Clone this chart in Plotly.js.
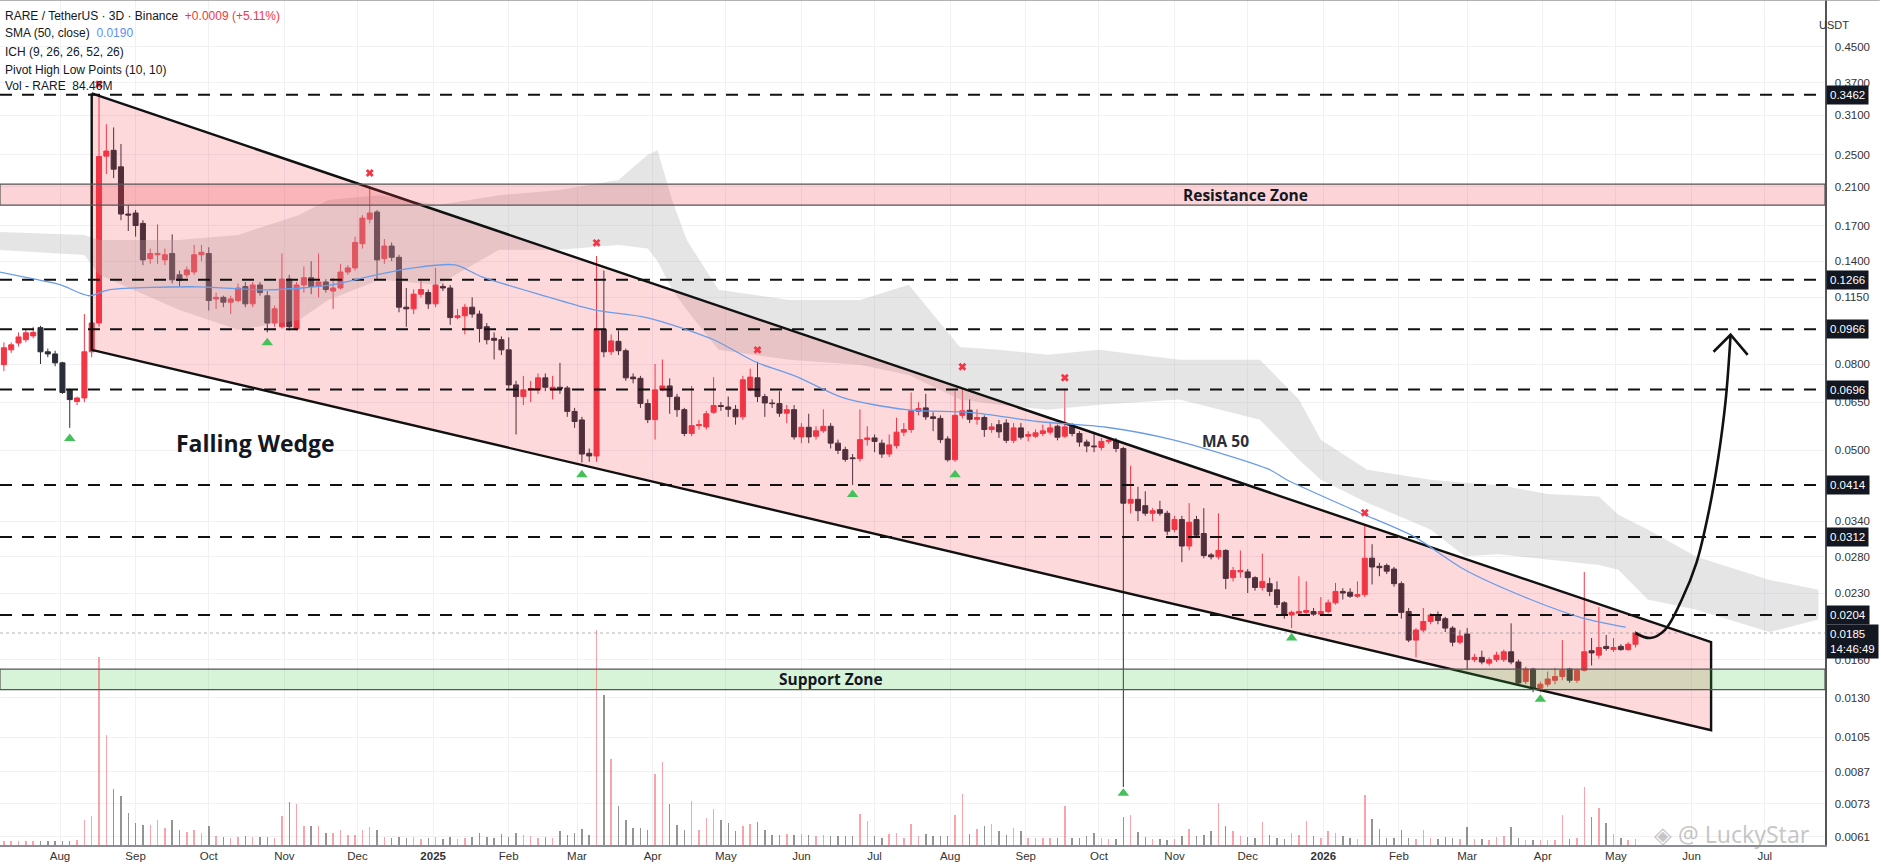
<!DOCTYPE html>
<html>
<head>
<meta charset="utf-8">
<script src="https://cdn.plot.ly/plotly-3.0.1.min.js"></script>
<style>html,body{margin:0;padding:0;background:#fff;}#chart{width:1881px;height:865px;}</style>
</head>
<body>
<div id="chart"></div>
<script>
// ---------- DATA ----------
const firstCandle = '2024-07-09';
const stepDays = 3;

const openP = [.0797,.0864,.0897,.0913,.0932,.0975,.0855,.0845,.0805,.0695,.0652,.0665,.0855,.1000,.2480,.2560,.2340,.1810,.1820,.1720,
.1420,.1450,.1410,.1460,.1300,.1300,.1320,.1450,.1460,.1140,.1150,.1120,.1130,.1220,.1110,.1230,.1160,.1000,.0980,.1270,
.0970,.1230,.1280,.1220,.1250,.1190,.1210,.1320,.1350,.1540,.1760,.1830,.1420,.1520,.1430,.1090,.1080,.1170,.1180,.1110,
.1220,.1210,.1030,.1040,.1090,.1050,.0980,.0920,.0913,.0864,.0714,.0670,.0695,.0695,.0742,.0695,.0705,.0702,.0618,.0590,
.0492,.0485,.0966,.0855,.0905,.0860,.0745,.0740,.0645,.0591,.0695,.0710,.0668,.0624,.0548,.0572,.0568,.0615,.0638,.0633,
.0625,.0600,.0695,.0742,.0670,.0647,.0645,.0612,.0624,.0538,.0567,.0540,.0556,.0570,.0520,.0502,.0480,.0478,.0530,.0535,
.0520,.0490,.0513,.0552,.0560,.0618,.0630,.0600,.0595,.0532,.0475,.0605,.0622,.0592,.0598,.0560,.0575,.0580,.0528,.0565,
.0540,.0540,.0548,.0552,.0570,.0540,.0570,.0548,.0523,.0512,.0508,.0525,.0528,.0505,.0375,.0383,.0370,.0355,.0362,.0355,
.0325,.0343,.0297,.0343,.0318,.0283,.0280,.0290,.0250,.0258,.0258,.0250,.0237,.0242,.0234,.0218,.0204,.0206,.0207,.0208,
.0205,.0208,.0218,.0232,.0231,.0226,.0228,.0278,.0266,.0267,.0262,.0242,.0208,.0178,.0188,.0197,.0204,.0200,.0190,.0176,
.0184,.0160,.0162,.0157,.0160,.0160,.0167,.0158,.0142,.0152,.0137,.0140,.0143,.0146,.0152,.0143,.0151,.0168,.0164,.0172,
.0169,.0172,.0169,.0174];
const highP = [.0900,.0900,.0950,.0970,.0980,.0985,.0870,.0860,.0810,.0700,.0670,.1050,.1050,.3480,.2950,.2900,.2650,.1900,.1850,.1750,
.1500,.1710,.1500,.1620,.1330,.1360,.1530,.1530,.1510,.1180,.1160,.1160,.1240,.1250,.1250,.1250,.1190,.1100,.1460,.1300,
.1250,.1360,.1400,.1460,.1270,.1280,.1380,.1370,.1600,.1800,.2100,.1850,.1580,.1550,.1450,.1210,.1200,.1260,.1200,.1350,
.1240,.1230,.1080,.1110,.1150,.1070,.1000,.0950,.0930,.0925,.0730,.0750,.0730,.0760,.0760,.0750,.0805,.0710,.0630,.0600,
.0505,.1440,.1330,.0940,.0960,.0870,.0760,.0750,.0660,.0800,.0820,.0740,.0680,.0630,.0710,.0590,.0620,.0745,.0650,.0670,
.0640,.0750,.0780,.0810,.0680,.0660,.0690,.0640,.0640,.0580,.0610,.0570,.0625,.0580,.0530,.0510,.0490,.0625,.0570,.0545,
.0530,.0545,.0597,.0580,.0685,.0650,.0680,.0615,.0605,.0540,.0690,.0700,.0660,.0625,.0605,.0580,.0590,.0592,.0580,.0580,
.0555,.0560,.0575,.0580,.0575,.0700,.0580,.0555,.0530,.0553,.0535,.0535,.0535,.0510,.0460,.0410,.0400,.0365,.0380,.0360,
.0350,.0350,.0375,.0350,.0365,.0286,.0355,.0292,.0265,.0290,.0262,.0252,.0285,.0250,.0245,.0220,.0209,.0252,.0245,.0212,
.0225,.0222,.0243,.0236,.0236,.0245,.0335,.0300,.0271,.0270,.0265,.0245,.0212,.0190,.0212,.0206,.0208,.0202,.0192,.0188,
.0190,.0165,.0168,.0162,.0167,.0169,.0195,.0160,.0154,.0153,.0142,.0150,.0153,.0178,.0153,.0152,.0258,.0180,.0213,.0183,
.0180,.0174,.0176,.0187];
const lowP = [.0770,.0850,.0880,.0900,.0920,.0800,.0830,.0790,.0680,.0565,.0640,.0650,.0830,.0980,.2250,.2200,.1750,.1650,.1600,.1370,
.1380,.1380,.1370,.1240,.1220,.1280,.1300,.1400,.1070,.1080,.1090,.1050,.1120,.1090,.1090,.1160,.0950,.0980,.0970,.0960,
.0960,.1180,.1170,.1150,.1180,.1080,.1200,.1300,.1330,.1500,.1720,.1270,.1380,.1400,.1060,.0980,.1050,.1150,.1080,.1090,
.1190,.0990,.1020,.0940,.1030,.0900,.0890,.0820,.0840,.0700,.0545,.0640,.0650,.0680,.0690,.0660,.0680,.0600,.0565,.0468,
.0470,.0470,.0830,.0840,.0840,.0730,.0720,.0630,.0580,.0530,.0690,.0610,.0600,.0540,.0540,.0560,.0560,.0610,.0620,.0600,
.0575,.0590,.0690,.0650,.0600,.0630,.0600,.0580,.0530,.0520,.0520,.0530,.0550,.0505,.0490,.0470,.0414,.0470,.0513,.0495,
.0480,.0482,.0505,.0540,.0550,.0605,.0590,.0555,.0520,.0470,.0470,.0595,.0580,.0575,.0538,.0550,.0535,.0520,.0520,.0530,
.0525,.0535,.0540,.0545,.0528,.0535,.0540,.0510,.0495,.0495,.0500,.0518,.0495,.0080,.0355,.0340,.0350,.0340,.0350,.0315,
.0320,.0272,.0290,.0310,.0278,.0276,.0276,.0235,.0245,.0250,.0230,.0233,.0233,.0226,.0212,.0200,.0190,.0204,.0204,.0203,
.0204,.0206,.0216,.0222,.0224,.0224,.0225,.0241,.0252,.0255,.0238,.0200,.0176,.0162,.0186,.0194,.0194,.0186,.0172,.0174,
.0152,.0158,.0156,.0155,.0158,.0158,.0156,.0140,.0140,.0134,.0134,.0138,.0140,.0143,.0141,.0141,.0150,.0155,.0161,.0168,
.0167,.0168,.0168,.0171];
const closeP = [.0874,.0888,.0927,.0948,.0950,.0855,.0845,.0805,.0685,.0659,.0665,.0855,.1000,.2475,.2550,.2310,.1810,.1800,.1700,.1410,
.1460,.1460,.1450,.1265,.1260,.1335,.1450,.1470,.1130,.1150,.1120,.1140,.1210,.1110,.1230,.1180,.1000,.1080,.1270,.0980,
.1230,.1280,.1220,.1250,.1200,.1210,.1320,.1350,.1550,.1770,.1820,.1410,.1520,.1430,.1090,.1080,.1170,.1200,.1110,.1230,
.1210,.1030,.1040,.1090,.1050,.0970,.0913,.0910,.0864,.0714,.0670,.0695,.0700,.0742,.0705,.0705,.0700,.0618,.0585,.0490,
.0485,.0966,.0855,.0907,.0860,.0742,.0738,.0645,.0591,.0695,.0710,.0670,.0624,.0548,.0572,.0575,.0610,.0638,.0635,.0625,
.0600,.0734,.0745,.0670,.0647,.0645,.0612,.0624,.0538,.0567,.0538,.0556,.0570,.0520,.0500,.0476,.0478,.0530,.0535,.0525,
.0490,.0515,.0552,.0560,.0620,.0628,.0600,.0595,.0530,.0475,.0605,.0620,.0592,.0598,.0560,.0568,.0553,.0528,.0565,.0537,
.0545,.0550,.0556,.0565,.0537,.0568,.0548,.0523,.0512,.0510,.0525,.0528,.0505,.0375,.0383,.0360,.0355,.0360,.0355,.0322,
.0343,.0297,.0338,.0315,.0282,.0280,.0290,.0249,.0260,.0260,.0250,.0237,.0245,.0232,.0216,.0204,.0207,.0208,.0209,.0205,
.0208,.0218,.0232,.0230,.0226,.0228,.0278,.0265,.0264,.0259,.0242,.0207,.0178,.0188,.0197,.0204,.0198,.0190,.0176,.0182,
.0160,.0162,.0158,.0160,.0164,.0167,.0158,.0141,.0152,.0137,.0140,.0144,.0146,.0151,.0143,.0151,.0167,.0166,.0171,.0170,
.0171,.0169,.0174,.0185];
// volume, millions of RARE
const volM = [56,56,56,56,56,56,56,56,56,56,70,
350,406,2632,1540,784,686,448,308,280,280,350,238,350,210,182,210,168,266,126,
112,98,112,126,112,112,112,98,
406,602,574,266,266,266,168,168,210,140,140,210,252,210,
112,98,112,98,112,84,98,112,84,112,84,98,112,
168,112,98,154,112,168,140,126,98,112,98,196,140,168,224,140,
3010,2100,1204,546,350,238,238,210,994,1162,574,280,210,616,210,378,504,350,308,196,266,294,322,210,140,
140,154,140,154,140,126,140,126,126,126,126,
434,336,126,98,154,168,98,294,126,154,126,126,126,
420,714,154,224,266,294,196,140,238,196,98,98,98,98,98,
546,98,98,126,168,98,84,84,392,420,182,112,84,84,70,84,126,224,126,140,196,
588,266,196,126,112,98,322,140,98,84,168,140,336,126,98,196,168,126,98,84,
700,364,224,98,98,210,98,84,210,98,84,112,98,84,252,84,84,70,112,126,252,
98,70,70,70,70,70,420,84,98,812,392,518,308,154,98,70,84.46];

const maDates = ['2024-07-07','2024-07-19','2024-08-01','2024-08-13','2024-08-21','2024-09-27','2024-10-25','2024-11-21','2024-12-05','2024-12-24','2025-01-10','2025-01-21','2025-02-17','2025-03-08','2025-03-30','2025-04-26','2025-05-13','2025-05-30','2025-06-18','2025-07-14','2025-08-10','2025-09-06','2025-10-04','2025-10-31','2025-12-10','2025-12-17','2026-01-15','2026-02-07','2026-02-28','2026-03-27','2026-04-17','2026-05-05'];
const maVals = [0.1321,0.1279,0.1232,0.1160,0.1198,0.1218,0.1198,0.1232,0.1286,0.1350,0.1372,0.1286,0.1153,0.1074,0.1029,0.0913,0.0810,0.0747,0.0666,0.0624,0.0614,0.0585,0.0567,0.0530,0.0450,0.0426,0.0358,0.0313,0.0261,0.0222,0.0201,0.0191];

const cloudDates = ['2024-07-07','2024-08-11','2024-08-17','2024-09-19','2024-10-13','2024-11-07','2024-11-19','2024-12-10','2025-01-03','2025-01-28','2025-02-22','2025-03-18','2025-03-30','2025-04-03','2025-04-09','2025-04-15','2025-04-28','2025-05-27','2025-06-25','2025-07-15','2025-08-05','2025-08-21','2025-09-10','2025-10-01','2025-11-03','2025-12-06','2025-12-22','2025-12-31','2026-01-19','2026-02-14','2026-02-28','2026-03-14','2026-04-03','2026-04-24','2026-05-02','2026-05-14','2026-06-03','2026-07-03','2026-07-23'];
const cloudTop = [0.1642,0.1615,0.1572,0.1572,0.1615,0.1801,0.1954,0.2005,0.1902,0.2005,0.2063,0.2179,0.2500,0.2560,0.1950,0.1572,0.1198,0.1134,0.1134,0.1232,0.0877,0.0864,0.0841,0.0864,0.0819,0.0819,0.0659,0.0530,0.0450,0.0426,0.0419,0.0414,0.0394,0.0389,0.0352,0.0325,0.0280,0.0247,0.0234];
const cloudBot = [0.1489,0.1449,0.1300,0.1074,0.0964,0.1017,0.1134,0.1265,0.1232,0.1489,0.1489,0.1530,0.1500,0.1400,0.1200,0.1074,0.0864,0.0819,0.0797,0.0754,0.0659,0.0641,0.0624,0.0641,0.0659,0.0591,0.0475,0.0426,0.0376,0.0325,0.0281,0.0284,0.0276,0.0268,0.0261,0.0222,0.0210,0.0186,0.0199];

const pivotHighIdx = [14,51,82,104,132,146,187];
const pivotHighPrice = [0.367,0.2263,0.1547,0.0864,0.0788,0.0742,0.0356];
const pivotLowIdx = [10,37,80,117,131,154,177,211];
const pivotLowPrice = [0.0533,0.0898,0.0438,0.0393,0.0438,0.00773,0.0180,0.0129];

const wedgeDates = ['2024-08-14','2026-06-09'];
const wedgeUpper = [0.349,0.0176];
const wedgeLower = [0.0864,0.0109];

const levels = [0.3462,0.1266,0.0966,0.0696,0.0414,0.0312,0.0204];
const lastPrice = 0.0185;
const resistanceZone = [0.190,0.213];
const supportZone = [0.0136,0.0152];

const arrowDates = ['2026-05-09','2026-05-15','2026-05-21','2026-05-28','2026-06-03','2026-06-08','2026-06-12','2026-06-15','2026-06-17'];
const arrowPrices = [0.0185,0.0180,0.0188,0.0222,0.0271,0.0357,0.0483,0.0659,0.0938];
const arrowHeadDates = ['2026-06-10','2026-06-17','2026-06-24'];
const arrowHeadPrices = [0.0855,0.0938,0.0841];

const monthTicks = ['2024-08-01','2024-09-01','2024-10-01','2024-11-01','2024-12-01','2025-01-01','2025-02-01','2025-03-01','2025-04-01','2025-05-01','2025-06-01','2025-07-01','2025-08-01','2025-09-01','2025-10-01','2025-11-01','2025-12-01','2026-01-01','2026-02-01','2026-03-01','2026-04-01','2026-05-01','2026-06-01','2026-07-01'];
const monthLabels = ['Aug','Sep','Oct','Nov','Dec','<b>2025</b>','Feb','Mar','Apr','May','Jun','Jul','Aug','Sep','Oct','Nov','Dec','<b>2026</b>','Feb','Mar','Apr','May','Jun','Jul'];
const priceTicks = [0.45,0.37,0.31,0.25,0.21,0.17,0.14,0.115,0.08,0.065,0.05,0.034,0.028,0.023,0.016,0.013,0.0105,0.0087,0.0073,0.0061];
const priceTickLabels = ['0.4500','0.3700','0.3100','0.2500','0.2100','0.1700','0.1400','0.1150','0.0800','0.0650','0.0500','0.0340','0.0280','0.0230','0.0160','0.0130','0.0105','0.0087','0.0073','0.0061'];

// ---------- BUILD ----------
function addDays(s, n){ const d=new Date(s+'T00:00:00Z'); d.setUTCDate(d.getUTCDate()+n); return d.toISOString().slice(0,10); }
const candleDates = openP.map((_,i)=>addDays(firstCandle, i*stepDays));
const xStart = '2024-07-07 09:36', xEnd = '2026-07-25 17:00';
const FONT = 'Liberation Sans, Arial, sans-serif';
const UP = '#f23645', DOWN = '#2a2e39';

const traces = [];
// Ichimoku cloud
traces.push({type:'scatter',mode:'lines',x:cloudDates,y:cloudBot,line:{width:0},hoverinfo:'skip',showlegend:false});
traces.push({type:'scatter',mode:'lines',x:cloudDates,y:cloudTop,fill:'tonexty',fillcolor:'rgba(175,175,175,0.33)',line:{width:0},hoverinfo:'skip',showlegend:false});
// Wedge
traces.push({type:'scatter',mode:'lines',x:[wedgeDates[0],wedgeDates[1],wedgeDates[1],wedgeDates[0],wedgeDates[0]],
  y:[wedgeUpper[0],wedgeUpper[1],wedgeLower[1],wedgeLower[0],wedgeUpper[0]],fill:'toself',fillcolor:'rgba(242,54,69,0.19)',
  line:{color:'#111',width:2.4},hoverinfo:'skip',showlegend:false});
// Zones
function zone(z, fc){ return {type:'scatter',mode:'lines',x:[xStart,xEnd,xEnd,xStart,xStart],y:[z[0],z[0],z[1],z[1],z[0]],fill:'toself',fillcolor:fc,line:{color:'#555',width:1.2},hoverinfo:'skip',showlegend:false}; }
traces.push(zone(resistanceZone,'rgba(242,54,69,0.22)'));
traces.push(zone(supportZone,'rgba(60,200,60,0.2)'));
// Level lines
levels.forEach(v=>traces.push({type:'scatter',mode:'lines',x:[xStart,xEnd],y:[v,v],line:{color:'#111',width:2,dash:'12px,10px'},hoverinfo:'skip',showlegend:false}));
traces.push({type:'scatter',mode:'lines',x:[xStart,xEnd],y:[lastPrice,lastPrice],line:{color:'rgba(120,120,120,0.55)',width:1,dash:'dot'},hoverinfo:'skip',showlegend:false});
// MA 50
traces.push({type:'scatter',mode:'lines',x:maDates,y:maVals,line:{color:'#6a9ce8',width:1.3,shape:'spline',smoothing:0.8},hoverinfo:'skip',showlegend:false});
// Volume
traces.push({type:'bar',x:candleDates,y:volM,yaxis:'y2',width:0.6*86400000,
  marker:{color:volM.map((_,i)=>closeP[i]>=openP[i]?'rgba(242,54,69,0.45)':'rgba(60,60,60,0.55)'),line:{width:0}},hoverinfo:'skip',showlegend:false});
// Candles
traces.push({type:'candlestick',x:candleDates,open:openP,high:highP,low:lowP,close:closeP,whiskerwidth:0,
  increasing:{line:{color:UP,width:1},fillcolor:UP},decreasing:{line:{color:DOWN,width:1},fillcolor:DOWN},hoverinfo:'skip',showlegend:false});
// Pivots
traces.push({type:'scatter',mode:'markers',x:pivotHighIdx.map(i=>candleDates[i-1]),y:pivotHighPrice,marker:{symbol:'x',size:7,color:UP},hoverinfo:'skip',showlegend:false});
traces.push({type:'scatter',mode:'markers',x:pivotLowIdx.map(i=>candleDates[i-1]),y:pivotLowPrice,marker:{symbol:'triangle-up',size:10,color:'#43c25a'},hoverinfo:'skip',showlegend:false});
// Arrow
traces.push({type:'scatter',mode:'lines',x:arrowDates,y:arrowPrices,line:{color:'#111',width:2.6,shape:'spline',smoothing:1},hoverinfo:'skip',showlegend:false});
traces.push({type:'scatter',mode:'lines',x:arrowHeadDates,y:arrowHeadPrices,line:{color:'#111',width:2.6},hoverinfo:'skip',showlegend:false});

const PLOT_H = 845, PLOT_W = 1825;
const py = px => 1 - px/PLOT_H;
const annotations = [];
const legendLines = [
  'RARE / TetherUS · 3D · Binance  <span style="color:#f23645">+0.0009 (+5.11%)</span>',
  'SMA (50, close)  <span style="color:#5b8ff9">0.0190</span>',
  'ICH (9, 26, 26, 52, 26)',
  'Pivot High Low Points (10, 10)',
  'Vol - RARE  84.46M'
];
const legendY = [15.7,33,51.5,69.5,86];
legendLines.forEach((t,i)=>annotations.push({xref:'paper',yref:'paper',x:3/PLOT_W,y:py(legendY[i]),xanchor:'left',yanchor:'middle',showarrow:false,text:t,font:{family:FONT,size:12,color:'#131722'}}));

const labelFont = {family:'Open Sans, sans-serif',size:15.5,color:'#131722'};
annotations.push({xref:'x',yref:'y',x:'2025-11-30',y:Math.log10(Math.sqrt(resistanceZone[0]*resistanceZone[1])),text:'<b>Resistance Zone</b>',showarrow:false,font:labelFont});
annotations.push({xref:'x',yref:'y',x:'2025-06-13',y:Math.log10(Math.sqrt(supportZone[0]*supportZone[1])),text:'<b>Support Zone</b>',showarrow:false,font:labelFont});
annotations.push({xref:'x',yref:'y',x:'2024-10-20',y:Math.log10(0.0521),text:'<b>Falling Wedge</b>',showarrow:false,font:{family:'Open Sans, sans-serif',size:23,color:'#131722'}});
annotations.push({xref:'x',yref:'y',x:'2025-11-22',y:Math.log10(0.0525),text:'<b>MA 50</b>',showarrow:false,font:{family:'Open Sans, sans-serif',size:15.5,color:'#2a2e39'}});

levels.forEach(v=>annotations.push({xref:'paper',yref:'y',x:1,y:Math.log10(v),xanchor:'left',yanchor:'middle',xshift:1,showarrow:false,
  text:v.toFixed(4),bgcolor:'#131722',borderpad:3,font:{family:FONT,size:11.5,color:'#ffffff'}}));
annotations.push({xref:'paper',yref:'y',x:1,y:Math.log10(lastPrice),xanchor:'left',yanchor:'top',yshift:9,xshift:1,showarrow:false,align:'left',
  text:lastPrice.toFixed(4)+'<br>14:46:49',bgcolor:'#131722',borderpad:3,font:{family:FONT,size:11.5,color:'#ffffff'}});
annotations.push({xref:'paper',yref:'paper',x:1851/PLOT_W,y:py(17),showarrow:false,text:'USDT',font:{family:FONT,size:11,color:'#333'}});
annotations.push({xref:'paper',yref:'paper',x:1822/PLOT_W,y:py(834),xanchor:'right',yanchor:'middle',showarrow:false,text:'◈ @ LuckyStar_',font:{family:'Noto Sans, sans-serif',size:23,color:'rgba(150,150,150,0.55)'}});

const layout = {
  width:1881,height:865,margin:{l:0,r:56,t:0,b:20},
  paper_bgcolor:'#ffffff',plot_bgcolor:'#ffffff',showlegend:false,bargap:0,boxgap:0.1,boxgroupgap:0.24,
  xaxis:{type:'date',range:[xStart,xEnd],tickvals:monthTicks,ticktext:monthLabels,ticks:'',showgrid:true,gridcolor:'#f1f1f4',
    zeroline:false,showline:true,linecolor:'#8a8d96',linewidth:1.5,rangeslider:{visible:false},automargin:false,
    tickfont:{family:FONT,size:11.5,color:'#333'},fixedrange:true},
  yaxis:{type:'log',side:'right',range:[-2.2340,-0.2364],tickvals:priceTicks,ticktext:priceTickLabels,ticks:'',ticklabelstandoff:6,
    showgrid:true,gridcolor:'#f1f1f4',zeroline:false,showline:true,linecolor:'#555',linewidth:1.5,automargin:false,
    tickfont:{family:FONT,size:11.5,color:'#333'},fixedrange:true},
  yaxis2:{overlaying:'y',side:'right',range:[0,845*14],visible:false,fixedrange:true},
  annotations:annotations,
  shapes:[{type:'line',xref:'paper',yref:'paper',x0:0,x1:1.03,y0:1,y1:1,line:{color:'#999',width:1.5}}]
};
Plotly.newPlot('chart',traces,layout,{staticPlot:true,displayModeBar:false});
</script>
</body>
</html>
